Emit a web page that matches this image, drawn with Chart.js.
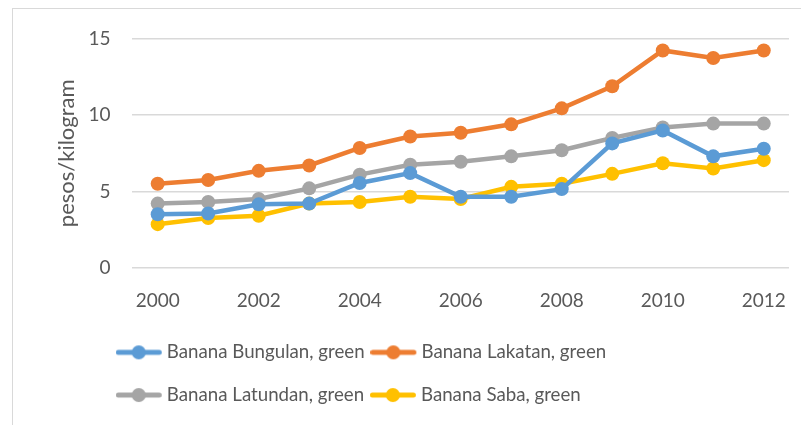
<!DOCTYPE html>
<html>
<head>
<meta charset="utf-8">
<script src="https://cdn.jsdelivr.net/npm/chart.js@4"></script>
<style>
html, body { margin: 0; padding: 0; background: #fff; }
#wrap { position: relative; width: 801px; height: 425px; overflow: hidden; }
#frame { position: absolute; left: 12px; top: 8px; width: 800px; height: 430px; border: 1px solid #d9d9d9; box-sizing: border-box; }
canvas { position: absolute; left: 0; top: 0; }
</style>
</head>
<body>
<div id="wrap">
<div id="frame"></div>
<canvas id="chart" width="801" height="425"></canvas>
</div>
<script>
var years = ['2000', '2001', '2002', '2003', '2004', '2005', '2006', '2007', '2008', '2009', '2010', '2011', '2012'];
var bungulan = [3.5, 3.55, 4.15, 4.2, 5.55, 6.2, 4.65, 4.65, 5.15, 8.15, 9.0, 7.3, 7.8];
var lakatan = [5.5, 5.75, 6.35, 6.7, 7.85, 8.6, 8.85, 9.4, 10.45, 11.9, 14.25, 13.75, 14.25];
var latundan = [4.2, 4.3, 4.5, 5.2, 6.1, 6.75, 6.95, 7.3, 7.7, 8.5, 9.2, 9.45, 9.45];
var saba = [2.85, 3.25, 3.4, 4.2, 4.3, 4.65, 4.5, 5.3, 5.5, 6.15, 6.85, 6.5, 7.05];
var yTicks = [0, 5, 10, 15];

var FONT = 'Lato, "Open Sans", sans-serif';

// legend marker: line with a dot, drawn a bit off the legend box
function marker(color) {
    var c = document.createElement('canvas');
    c.width = 60;
    c.height = 16;
    var g = c.getContext('2d');
    g.strokeStyle = color;
    g.lineWidth = 5;
    g.lineCap = 'round';
    g.beginPath();
    g.moveTo(2.5, 8);
    g.lineTo(43.5, 8);
    g.stroke();
    g.fillStyle = color;
    g.beginPath();
    g.arc(23, 8, 7, 0, Math.PI * 2);
    g.fill();
    return c;
}

function series(label, vals, color) {
    return {
        label: label,
        data: vals,
        borderColor: color,
        backgroundColor: color,
        borderWidth: 4.5,
        pointRadius: 7,
        pointBorderWidth: 0,
        pointBackgroundColor: color,
        tension: 0,
        markerImg: marker(color)
    };
}

// put the legend where the original has it
var moveLegend = {
    id: 'moveLegend',
    afterLayout: function (chart) {
        var lg = chart.legend;
        var dx = 110 - lg.left;
        var dy = 319 - lg.top;
        lg.left += dx; lg.right += dx;
        lg.top += dy; lg.bottom += dy;
    }
};

var ctx = document.getElementById('chart').getContext('2d');
var chart = new Chart(ctx, {
    type: 'line',
    data: {
        labels: years,
        datasets: [
            series('Banana Bungulan, green', bungulan, '#5B9BD5'),
            series('Banana Lakatan, green', lakatan, '#ED7D31'),
            series('Banana Latundan, green', latundan, '#A5A5A5'),
            series('Banana Saba, green', saba, '#FFC000')
        ]
    },
    plugins: [moveLegend],
    options: {
        responsive: false,
        animation: false,
        layout: {
            padding: { left: 54, right: 12, top: 39, bottom: 4 }
        },
        plugins: {
            tooltip: { enabled: false },
            legend: {
                position: 'bottom',
                align: 'start',
                labels: {
                    usePointStyle: true,
                    pointStyleWidth: 23.5,
                    padding: 24,
                    color: '#595959',
                    font: { family: FONT, size: 18.7 },
                    generateLabels: function (ch) {
                        var items = Chart.defaults.plugins.legend.labels.generateLabels(ch);
                        items.forEach(function (it) {
                            it.pointStyle = ch.data.datasets[it.datasetIndex].markerImg;
                        });
                        return items;
                    }
                }
            }
        },
        scales: {
            x: {
                offset: true,
                grid: { display: false },
                border: { display: false },
                ticks: {
                    autoSkip: false,
                    maxRotation: 0,
                    color: '#595959',
                    padding: 13.6,
                    font: { family: FONT, size: 19 },
                    callback: function (v, i) { return i % 2 === 0 ? years[i] : ''; }
                }
            },
            y: {
                min: 0,
                max: 15,
                afterBuildTicks: function (axis) {
                    axis.ticks = yTicks.map(function (v) { return { value: v }; });
                },
                grid: { color: '#d9d9d9', lineWidth: 1.5, tickLength: 20, tickColor: 'rgba(0,0,0,0)' },
                border: { display: false },
                ticks: {
                    color: '#595959',
                    padding: 2,
                    font: { family: FONT, size: 19 }
                },
                title: {
                    display: true,
                    text: 'pesos/kilogram',
                    color: '#595959',
                    padding: { top: 0, bottom: 6 },
                    font: { family: FONT, size: 22 }
                }
            }
        }
    }
});
</script>
</body>
</html>
